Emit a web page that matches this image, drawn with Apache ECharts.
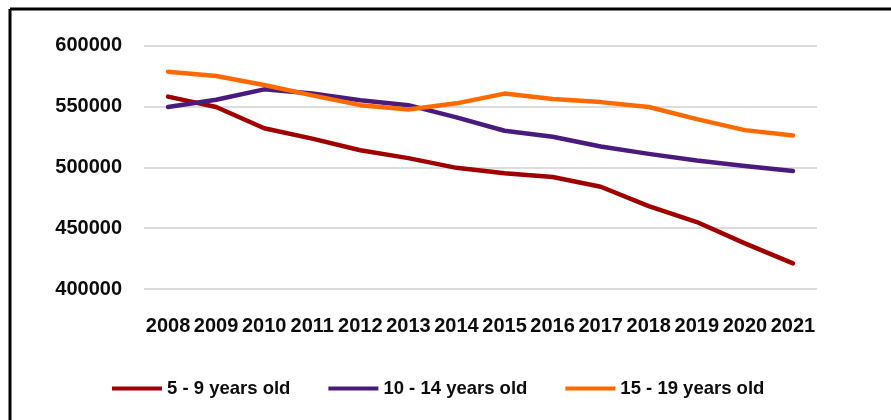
<!DOCTYPE html>
<html>
<head>
<meta charset="utf-8">
<script src="https://cdn.jsdelivr.net/npm/echarts@6/dist/echarts.min.js"></script>
<style>
html,body{margin:0;padding:0;background:#fff;}
#chart{width:891px;height:420px;}
</style>
</head>
<body>
<div id="chart"></div>
<script>
const years = ['2008','2009','2010','2011','2012','2013','2014','2015','2016','2017','2018','2019','2020','2021'];
const age5to9 = [558000, 549500, 532000, 523500, 514000, 507500, 499500, 495000, 492000, 484000, 468000, 455000, 437500, 421000];
const age10to14 = [549500, 555500, 564000, 560500, 555000, 551000, 541000, 530000, 525000, 517000, 511000, 505500, 501000, 497000];
const age15to19 = [578500, 575000, 567500, 559000, 551000, 547500, 552500, 560500, 556000, 553500, 549500, 539500, 530500, 526000];
const seriesNames = ['5 - 9 years old', '10 - 14 years old', '15 - 19 years old'];
const colors = ['#A00000', '#4B1A7D', '#FF6A00'];

const chart = echarts.init(document.getElementById('chart'), null, {renderer: 'canvas'});
const font = 'Liberation Sans';
function mk(name, data, color) {
  return {
    name: name, type: 'line', data: data, showSymbol: false, symbol: 'none',
    lineStyle: {width: 4.5, color: color, cap: 'round', join: 'round'},
    itemStyle: {color: color},
    emphasis: {disabled: true}, animation: false
  };
}
chart.setOption({
  animation: false,
  color: colors,
  graphic: [
    {type: 'line', shape: {x1: 10, y1: 9, x2: 891, y2: 9}, style: {stroke: '#000', lineWidth: 3}, silent: true},
    {type: 'line', shape: {x1: 10, y1: 9, x2: 10, y2: 420}, style: {stroke: '#000', lineWidth: 3}, silent: true}
  ],
  grid: {left: 144, right: 74, top: 45.5, bottom: 131, containLabel: false},
  legend: {
    left: 107, top: 374, itemWidth: 50, itemHeight: 4, itemGap: 38,
    icon: 'rect',
    textStyle: {fontFamily: font, fontWeight: 'bold', fontSize: 18.5, color: '#0d0d0d'},
    data: seriesNames
  },
  xAxis: {
    type: 'category', data: years, boundaryGap: true,
    axisLine: {show: false}, axisTick: {show: false},
    axisLabel: {fontFamily: font, fontWeight: 'bold', fontSize: 20, color: '#0d0d0d', margin: 27, interval: 0}
  },
  yAxis: {
    type: 'value', min: 400000, max: 600000, interval: 50000,
    axisLine: {show: false}, axisTick: {show: false},
    splitLine: {lineStyle: {color: '#d0d0d0', width: 1.5}},
    axisLabel: {fontFamily: font, fontWeight: 'bold', fontSize: 20, color: '#0d0d0d', margin: 22,
      formatter: function (v) { return String(v); }}
  },
  series: [
    mk(seriesNames[0], age5to9, colors[0]),
    mk(seriesNames[1], age10to14, colors[1]),
    mk(seriesNames[2], age15to19, colors[2])
  ]
});
</script>
</body>
</html>
